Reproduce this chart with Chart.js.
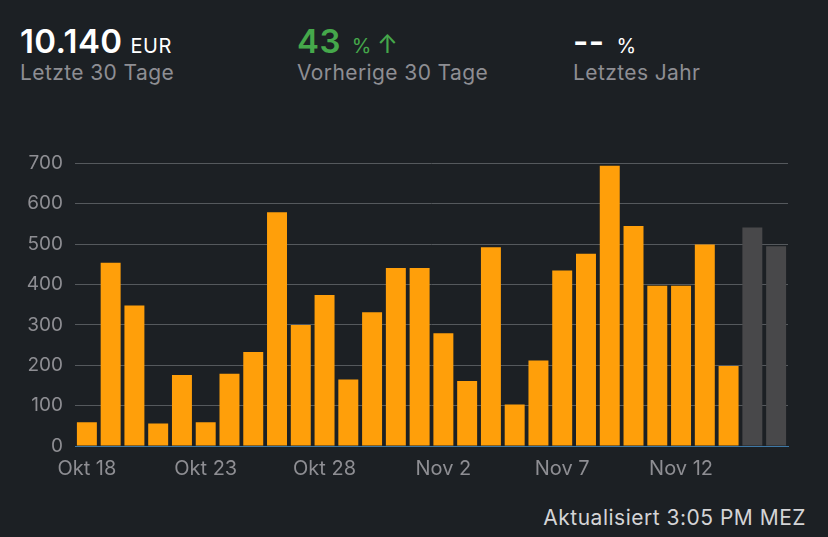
<!DOCTYPE html>
<html>
<head>
<meta charset="utf-8">
<script src="https://cdn.jsdelivr.net/npm/chart.js@4/dist/chart.umd.min.js"></script>
<style>
  html, body { margin: 0; padding: 0; }
  body {
    width: 828px; height: 537px; overflow: hidden;
    background: #1c2024;
    font-family: Inter, "Noto Sans", sans-serif;
    position: relative;
  }
  .stat { position: absolute; top: 20px; }
  .big { color: #fff; font-size: 33px; font-weight: 600; letter-spacing: 0.4px; line-height: 42px; }
  .unit { font-size: 20px; font-weight: 400; margin-left: 8px; letter-spacing: 0.5px; }
  .sub { color: #8e8e93; font-size: 21px; letter-spacing: 0.4px; margin-top: -7px; }
  .green { color: #45a84b; }
  #wrap { position: absolute; left: 0; top: 140px; width: 800px; height: 345px; }
  .updated { position: absolute; right: 22px; top: 505px; color: #d4d4d6; font-size: 21px; letter-spacing: 0.5px; }
</style>
</head>
<body>

<div class="stat" style="left:20px">
  <div class="big">10.140<span class="unit">EUR</span></div>
  <div class="sub">Letzte 30 Tage</div>
</div>
<div class="stat" style="left:297px">
  <div class="big green">43<span class="unit" style="margin-left:11px">%</span><span class="unit" style="font-size:25px;margin-left:5px">↑</span></div>
  <div class="sub">Vorherige 30 Tage</div>
</div>
<div class="stat" style="left:573px">
  <div class="big">--<span class="unit" style="margin-left:12px">%</span></div>
  <div class="sub">Letztes Jahr</div>
</div>

<div id="wrap"><canvas id="myChart"></canvas></div>
<div class="updated">Aktualisiert 3:05 PM MEZ</div>

<script>
// ---- data ----
const days = [
  'Okt 18','Okt 19','Okt 20','Okt 21','Okt 22','Okt 23','Okt 24','Okt 25','Okt 26','Okt 27',
  'Okt 28','Okt 29','Okt 30','Okt 31','Nov 1','Nov 2','Nov 3','Nov 4','Nov 5','Nov 6',
  'Nov 7','Nov 8','Nov 9','Nov 10','Nov 11','Nov 12','Nov 13','Nov 14','Nov 15','Nov 16'
];
// booked days (orange)
const actual = [
  59, 454, 348, 56, 176, 59, 179, 233, 579, 300,
  374, 165, 331, 441, 441, 279, 161, 492, 103, 212,
  435, 476, 694, 545, 397, 397, 499, 198
];
// last two days, still open (grey)
const pending = [541, 495];
const yTicks = [0, 100, 200, 300, 400, 500, 600, 700];
const labelEvery = 5;

const pad = n => new Array(n).fill(null);

new Chart('myChart', {
  type: 'bar',
  data: {
    labels: days,
    datasets: [
      { data: actual.concat(pad(days.length - actual.length)), backgroundColor: '#ff9f0a' },
      { data: pad(days.length - pending.length).concat(pending), backgroundColor: '#48484a' }
    ]
  },
  options: {
    responsive: true,
    maintainAspectRatio: false,
    animation: false,
    layout: { padding: { top: 23, right: 12, left: 0, bottom: 0 } },
    plugins: { legend: { display: false }, tooltip: { enabled: false } },
    datasets: { bar: { barPercentage: 0.84, categoryPercentage: 1 } },
    scales: {
      x: {
        stacked: true,
        grid: { display: false },
        border: { display: true, color: '#3e78a6', width: 1 },
        afterFit: s => { s.height = 39; },
        ticks: {
          autoSkip: false, maxRotation: 0, padding: 3,
          color: '#8e8e93', font: { family: 'Inter', size: 20 },
          callback: (v, i) => (i % labelEvery === 0 ? days[i] : '')
        }
      },
      y: {
        stacked: true,
        min: yTicks[0], max: yTicks[yTicks.length - 1],
        afterBuildTicks: s => { s.ticks = yTicks.map(v => ({ value: v })); },
        afterFit: s => { s.width = 75; },
        border: { display: false },
        grid: { color: '#55595d', lineWidth: 1, drawTicks: false },
        ticks: { padding: 12, color: '#8e8e93', font: { family: 'Inter', size: 19 } }
      }
    }
  }
});
</script>
</body>
</html>
